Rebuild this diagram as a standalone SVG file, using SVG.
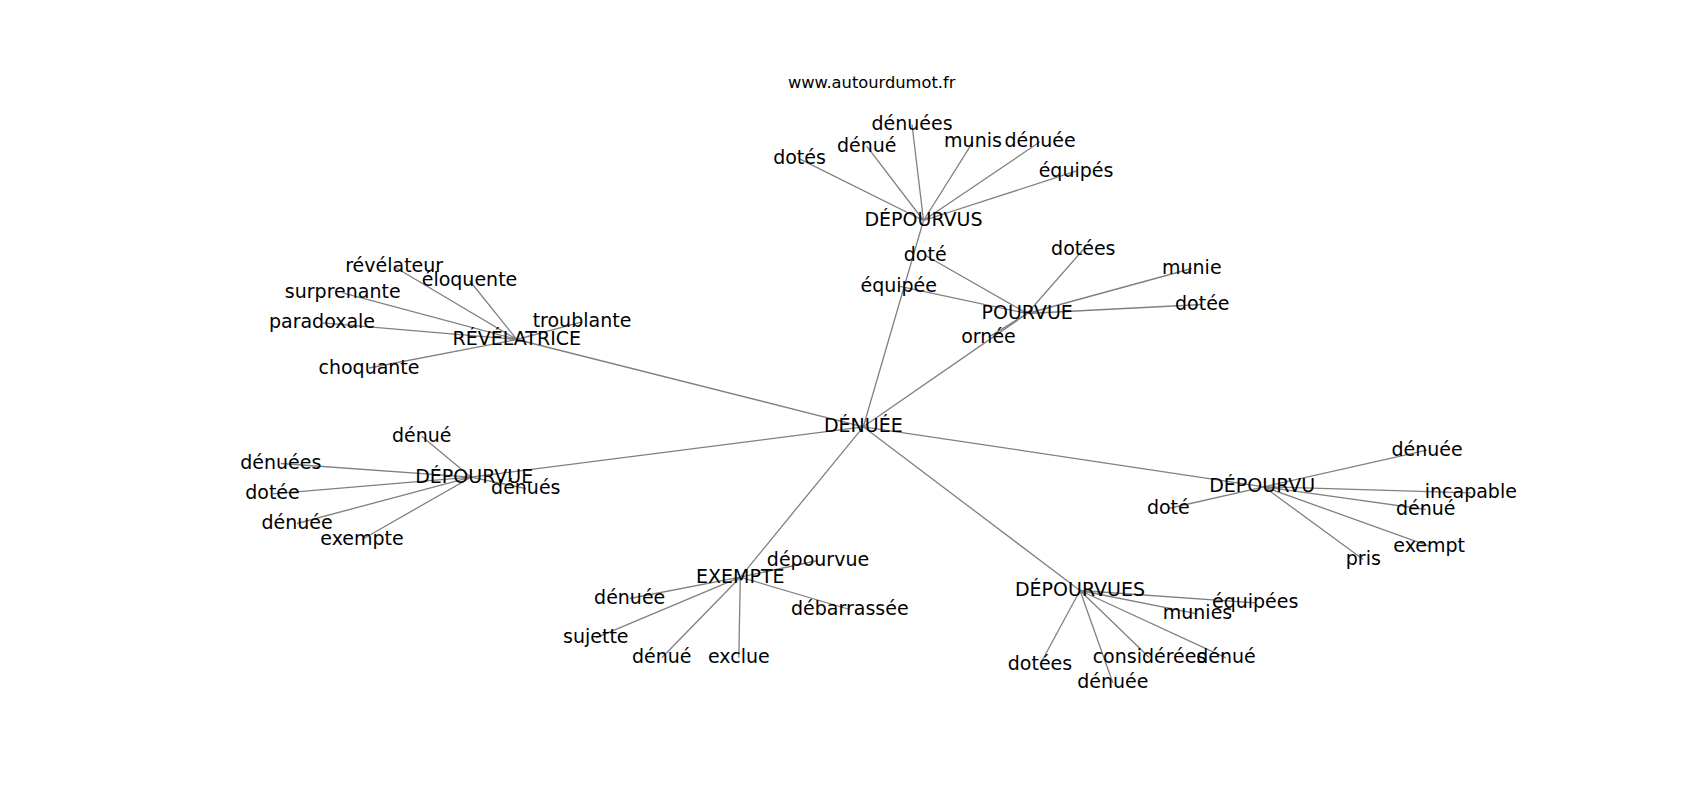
<svg xmlns="http://www.w3.org/2000/svg" width="1700" height="800" viewBox="0 0 1700 800">
<style>
.e{stroke:#808080;stroke-width:1.3;fill:none}
text{font-family:"DejaVu Sans","Liberation Sans",sans-serif;fill:#000;text-anchor:middle}
.l{font-size:19px}
.t{font-size:16.3px}
</style>
<rect width="1700" height="800" fill="#fff"/>
<g id="edges" class="e">
<path d="M863.3,426.8L923.5,220.5M863.3,426.8L1027.2,313.5M863.3,426.8L516.8,339.5M863.3,426.8L471,477.2M863.3,426.8L1264,486.8M863.3,426.8L740.3,577.2M863.3,426.8L1080,590.5"/>
<path d="M923.5,220.5L799.5,158.8M923.5,220.5L866.7,146.2M923.5,220.5L912,124.5M923.5,220.5L973,141.8M923.5,220.5L1040,141.8M923.5,220.5L1076,171.2"/>
<path d="M1027.2,313.5L925.2,255.2M1027.2,313.5L898.7,286.2M1027.2,313.5L1083.3,249.5M1027.2,313.5L1191.8,268.5M1027.2,313.5L1202.3,304.5M1027.2,313.5L988.5,337.2"/>
<path d="M516.8,339.5L394.2,266.8M516.8,339.5L469.5,280.5M516.8,339.5L342.7,292.8M516.8,339.5L322,322.8M516.8,339.5L582,321.8M516.8,339.5L369,368"/>
<path d="M471,477.2L421.7,436.2M471,477.2L280.8,463.5M471,477.2L525.8,488.5M471,477.2L272.5,493.8M471,477.2L297,523.5M471,477.2L362,539.5"/>
<path d="M1264,486.8L1427,450.2M1264,486.8L1470.8,492.8M1264,486.8L1168.3,508.5M1264,486.8L1425.8,509.5M1264,486.8L1429.2,546.2M1264,486.8L1363.3,559.5"/>
<path d="M740.3,577.2L818,560.5M740.3,577.2L629.7,598.5M740.3,577.2L849.8,609.5M740.3,577.2L595.8,637.8M740.3,577.2L661.8,657.8M740.3,577.2L738.8,657.8"/>
<path d="M1080,590.5L1255.2,602.8M1080,590.5L1197.5,613.8M1080,590.5L1040,664.5M1080,590.5L1149.5,657.8M1080,590.5L1226,657.8M1080,590.5L1112.8,682.8"/>
</g>
<g id="title"><text class="t" x="871.7" y="87.5">www.autourdumot.fr</text></g>
<g id="n0"><text class="l" x="863.3" y="432.3">DÉNUÉE</text></g>
<g id="n1"><text class="l" x="923.5" y="226">DÉPOURVUS</text></g>
<g id="n2"><text class="l" x="1027.2" y="319">POURVUE</text></g>
<g id="n3"><text class="l" x="516.8" y="345">RÉVÉLATRICE</text></g>
<g id="n4"><text class="l" x="474.2" y="482.7">DÉPOURVUE</text></g>
<g id="n5"><text class="l" x="1262.2" y="492.3">DÉPOURVU</text></g>
<g id="n6"><text class="l" x="740.3" y="582.7">EXEMPTE</text></g>
<g id="n7"><text class="l" x="1080" y="596">DÉPOURVUES</text></g>
<g id="n1a"><text class="l" x="799.5" y="164.3">dotés</text></g>
<g id="n1b"><text class="l" x="866.7" y="151.7">dénué</text></g>
<g id="n1c"><text class="l" x="912" y="130">dénuées</text></g>
<g id="n1d"><text class="l" x="973" y="147.3">munis</text></g>
<g id="n1e"><text class="l" x="1040" y="147.3">dénuée</text></g>
<g id="n1f"><text class="l" x="1076" y="176.7">équipés</text></g>
<g id="n2a"><text class="l" x="925.2" y="260.7">doté</text></g>
<g id="n2b"><text class="l" x="898.7" y="291.7">équipée</text></g>
<g id="n2c"><text class="l" x="1083.3" y="255">dotées</text></g>
<g id="n2d"><text class="l" x="1191.8" y="274">munie</text></g>
<g id="n2e"><text class="l" x="1202.3" y="310">dotée</text></g>
<g id="n2f"><text class="l" x="988.5" y="342.7">ornée</text></g>
<g id="n3a"><text class="l" x="394.2" y="272.3">révélateur</text></g>
<g id="n3b"><text class="l" x="469.5" y="286">éloquente</text></g>
<g id="n3c"><text class="l" x="342.7" y="298.3">surprenante</text></g>
<g id="n3d"><text class="l" x="322" y="328.3">paradoxale</text></g>
<g id="n3e"><text class="l" x="582" y="327.3">troublante</text></g>
<g id="n3f"><text class="l" x="369" y="373.5">choquante</text></g>
<g id="n4a"><text class="l" x="421.7" y="441.7">dénué</text></g>
<g id="n4b"><text class="l" x="280.8" y="469">dénuées</text></g>
<g id="n4c"><text class="l" x="525.8" y="494">dénués</text></g>
<g id="n4d"><text class="l" x="272.5" y="499.3">dotée</text></g>
<g id="n4e"><text class="l" x="297" y="529">dénuée</text></g>
<g id="n4f"><text class="l" x="362" y="545">exempte</text></g>
<g id="n5a"><text class="l" x="1427" y="455.7">dénuée</text></g>
<g id="n5b"><text class="l" x="1470.8" y="498.3">incapable</text></g>
<g id="n5c"><text class="l" x="1168.3" y="514">doté</text></g>
<g id="n5d"><text class="l" x="1425.8" y="515">dénué</text></g>
<g id="n5e"><text class="l" x="1429.2" y="551.7">exempt</text></g>
<g id="n5f"><text class="l" x="1363.3" y="565">pris</text></g>
<g id="n6a"><text class="l" x="818" y="566">dépourvue</text></g>
<g id="n6b"><text class="l" x="629.7" y="604">dénuée</text></g>
<g id="n6c"><text class="l" x="849.8" y="615">débarrassée</text></g>
<g id="n6d"><text class="l" x="595.8" y="643.3">sujette</text></g>
<g id="n6e"><text class="l" x="661.8" y="663.3">dénué</text></g>
<g id="n6f"><text class="l" x="738.8" y="663.3">exclue</text></g>
<g id="n7a"><text class="l" x="1255.2" y="608.3">équipées</text></g>
<g id="n7b"><text class="l" x="1197.5" y="619.3">munies</text></g>
<g id="n7c"><text class="l" x="1040" y="670">dotées</text></g>
<g id="n7d"><text class="l" x="1149.5" y="663.3">considérées</text></g>
<g id="n7e"><text class="l" x="1226" y="663.3">dénué</text></g>
<g id="n7f"><text class="l" x="1112.8" y="688.3">dénuée</text></g>
</svg>
